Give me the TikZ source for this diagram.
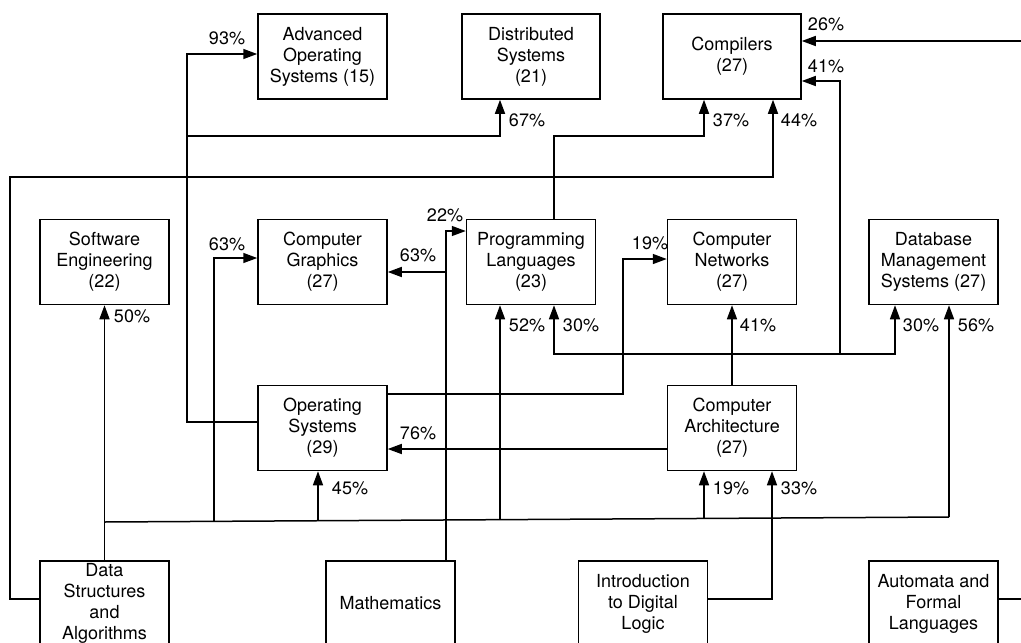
\documentclass[tikz,border=0pt]{standalone}
\usepackage{fontspec}
\setmainfont{TeX Gyre Heros}
\usetikzlibrary{arrows.meta}
\begin{document}
\begin{tikzpicture}[x=1pt,y=-1pt,
  box/.style={draw,line width=1.5pt,minimum width=129pt,minimum height=85pt,
    inner sep=0pt,align=center,font=\fontsize{18}{21}\selectfont},
  wide/.style={box,minimum width=138pt},
  pct/.style={inner sep=0pt,font=\fontsize{18}{21}\selectfont},
  link/.style={line width=1.5pt},
  arr/.style={link,-{Triangle[length=14pt,width=10pt]}}]
\useasboundingbox (0,0) rectangle (1021,643);
\clip (0,0) rectangle (1021,643);

% course boxes
\node[box]  (aos)  at (322.5,56.5)  {Advanced\\Operating\\Systems (15)};
\node[wide] (ds)   at (531,56.5)    {Distributed\\Systems\\(21)};
\node[wide] (comp) at (732,56.5)    {Compilers\\(27)};
\node[box]  (se)   at (104.5,262)   {Software\\Engineering\\(22)};
\node[box]  (cg)   at (322.5,262)   {Computer\\Graphics\\(27)};
\node[box]  (pl)   at (531,262)     {Programming\\Languages\\(23)};
\node[box]  (cn)   at (732,262)     {Computer\\Networks\\(27)};
\node[box]  (dbms) at (933.5,262)   {Database\\Management\\Systems (27)};
\node[box]  (os)   at (322.5,428)   {Operating\\Systems\\(29)};
\node[box]  (ca)   at (732,428)     {Computer\\Architecture\\(27)};
\node[box]  (dsa)  at (104.5,603.5) {Data\\Structures\\and\\Algorithms};
\node[box]  (math) at (390.5,603.5) {Mathematics};
\node[box]  (idl)  at (643,603.5)   {Introduction\\to Digital\\Logic};
\node[box]  (afl)  at (933.5,603.5) {Automata and\\Formal\\Languages};

% Operating Systems
\draw[arr] ([yshift=6pt]os.west) -- (187,422) |- ([yshift=2.5pt]aos.west);
\draw[arr] (187,136) -| ([xshift=-31pt]ds.south);
\draw[arr] ([yshift=34pt]os.east) -- (623,394) |- ([yshift=3pt]cn.west);

% Data Structures and Algorithms
\draw[arr] ([yshift=4.5pt]dsa.west) -| (10,177) -| ([xshift=41pt]comp.south);
\draw[arr] (dsa.north) -- (se.south);
\coordinate (busL) at (104.5,522);
\coordinate (busR) at (949,517);
\draw[link] (busL) -- (busR);
\draw[arr] (214,521.35) |- ([yshift=4pt]cg.west);
\draw[arr] (318,520.7) -- ([xshift=-4.5pt]os.south);
\draw[arr] (500,519.66) -- ([xshift=-31pt]pl.south);
\draw[arr] (704,518.45) -- ([xshift=-28pt]ca.south);
\draw[arr] (busR) -- ([xshift=15.5pt]dbms.south);

% Programming Languages
\draw[arr] ([xshift=23pt]pl.north) -- (554,136) -| ([xshift=-28pt]comp.south);

% Mathematics
\draw[arr] ([xshift=55.5pt]math.north) |- ([yshift=31pt]pl.west);
\draw[arr] (446,272) -- ([yshift=-10pt]cg.east);

% Computer Architecture
\draw[arr] (ca.north) -- (cn.south);
\draw[arr] (732,354) -| ([xshift=23pt]pl.south);
\draw[arr] (732,354) -| ([xshift=-38.5pt]dbms.south);
\draw[arr] (840,354) |- ([yshift=-24.5pt]comp.east);
\draw[arr] ([yshift=-21pt]ca.west) -- ([yshift=-21pt]os.east);

% Introduction to Digital Logic
\draw[arr] ([yshift=4.5pt]idl.east) -| ([xshift=40pt]ca.south);

% Automata and Formal Languages
\draw[arr] ([yshift=4.5pt]afl.east) -- (1030,599) |- ([yshift=15.5pt]comp.east);

% percentages
\node[pct] (p93)  at (227,38)  {93\%};
\node[pct] (p67)  at (527,120) {67\%};
\node[pct] (p26)  at (826,24)  {26\%};
\node[pct] (p41c) at (826,66)  {41\%};
\node[pct] (p37)  at (731,120) {37\%};
\node[pct] (p44)  at (799,120) {44\%};
\node[pct] (p22)  at (445,215) {22\%};
\node[pct] (p63r) at (418,255) {63\%};
\node[pct] (p63l) at (227,244) {63\%};
\node[pct] (p50)  at (132,316) {50\%};
\node[pct] (p52)  at (527,325) {52\%};
\node[pct] (p30p) at (581,325) {30\%};
\node[pct] (p19n) at (650,243) {19\%};
\node[pct] (p41n) at (758,325) {41\%};
\node[pct] (p30d) at (921,325) {30\%};
\node[pct] (p56)  at (976,325) {56\%};
\node[pct] (p76)  at (418,433) {76\%};
\node[pct] (p45)  at (350,488) {45\%};
\node[pct] (p19a) at (731,488) {19\%};
\node[pct] (p33)  at (799,488) {33\%};
\end{tikzpicture}
\end{document}
